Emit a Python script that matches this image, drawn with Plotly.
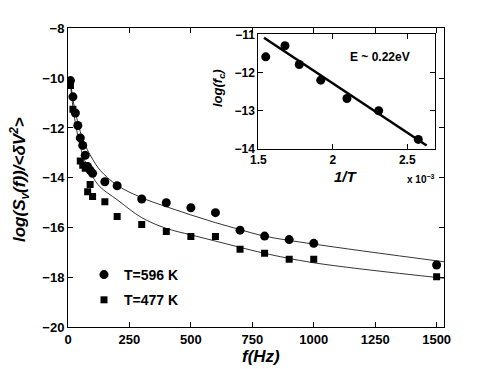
import plotly.graph_objects as go

# main panel: noise spectra
f_hot = [10, 20, 30, 40, 50, 60, 70, 80, 90, 100, 150, 200, 300, 400, 500, 600, 700, 800, 900, 1000, 1500]
s_hot = [-10.1, -10.75, -11.4, -11.9, -12.4, -12.7, -13.1, -13.55, -13.7, -13.82, -14.16, -14.32,
         -14.85, -15.0, -15.2, -15.4, -16.1, -16.34, -16.48, -16.63, -17.5]
f_cold = [10, 20, 50, 60, 70, 80, 90, 100, 150, 200, 300, 400, 500, 600, 700, 800, 900, 1000, 1500]
s_cold = [-10.3, -11.25, -13.33, -13.5, -13.62, -14.56, -14.27, -14.75, -14.96, -15.55,
          -15.87, -16.16, -16.36, -16.36, -16.87, -17.03, -17.27, -17.27, -17.97]

# fitted curves
f_fit = [10, 20, 30, 50, 70, 100, 130, 200, 300, 400, 500, 600, 700, 800, 1000, 1530]
fit_hot = [-10.1, -10.85, -11.35, -12.15, -12.7, -13.25, -13.69, -14.3, -14.8, -15.16,
           -15.49, -15.8, -16.08, -16.34, -16.66, -17.37]
fit_cold = [-10.25, -11.15, -11.8, -12.75, -13.35, -13.95, -14.36, -14.88, -15.6, -16.03,
            -16.29, -16.54, -16.79, -17.03, -17.41, -18.03]

# inset: Arrhenius plot
inv_t = [1.55, 1.679, 1.775, 1.919, 2.095, 2.308, 2.574]
log_fc = [-11.59, -11.30, -11.79, -12.20, -12.68, -13.0, -13.75]
line_x = [1.538, 2.63]
line_y = [-11.09, -13.91]

W, H, OFF = 491, 369, 8   # page body adds an 8 px offset


def px(x):
    return (x - OFF) / W


def py(y):
    return 1 - (y - OFF) / H


bold = dict(family='Liberation Sans, Arial', color='black', weight='bold')

fig = go.Figure()
fig.add_trace(go.Scatter(x=f_fit, y=fit_hot, mode='lines', line=dict(color='black', width=0.8, shape='spline'),
                         showlegend=False, hoverinfo='skip'))
fig.add_trace(go.Scatter(x=f_fit, y=fit_cold, mode='lines', line=dict(color='black', width=0.8, shape='spline'),
                         showlegend=False, hoverinfo='skip'))
fig.add_trace(go.Scatter(x=f_hot, y=s_hot, mode='markers', name='T=596 K', legendgroup='a',
                         marker=dict(symbol='circle', size=9, color='black')))
fig.add_trace(go.Scatter(x=f_cold, y=s_cold, mode='markers', name='T=477 K', legendgroup='b',
                         marker=dict(symbol='square', size=7, color='black')))

fig.add_trace(go.Scatter(x=line_x, y=line_y, mode='lines', line=dict(color='black', width=2.5),
                         xaxis='x2', yaxis='y2', showlegend=False))
fig.add_trace(go.Scatter(x=inv_t, y=log_fc, mode='markers', marker=dict(symbol='circle', size=9, color='black'),
                         xaxis='x2', yaxis='y2', showlegend=False))

axis_common = dict(showline=True, linecolor='black', linewidth=1, mirror='ticks', ticks='inside',
                   ticklen=5, tickcolor='black', showgrid=False, zeroline=False, automargin=False)

fig.update_layout(
    template='none',
    width=W, height=H,
    margin=dict(l=0, r=0, t=0, b=0),
    paper_bgcolor='white', plot_bgcolor='white',
    xaxis=dict(domain=[px(68), px(444)], range=[0, 1530], tickvals=[0, 250, 500, 750, 1000, 1250, 1500],
               tickfont=dict(size=13, **bold), **axis_common),
    yaxis=dict(domain=[py(327.3), py(28.3)], range=[-20, -8], dtick=2,
               tickfont=dict(size=13, **bold), **axis_common),
    xaxis2=dict(domain=[px(258.3), px(435)], range=[1.5, 2.686], tickvals=[1.5, 2, 2.5], anchor='y2',
                tickfont=dict(size=12, **bold), **axis_common),
    yaxis2=dict(domain=[py(149), py(34.3)], range=[-14, -11], dtick=1, anchor='x2',
                tickfont=dict(size=12, **bold), **axis_common),
    legend=dict(x=px(84), y=py(259), xanchor='left', yanchor='top', bgcolor='rgba(0,0,0,0)',
                font=dict(size=14, **bold), tracegroupgap=4),
    showlegend=True,
)


def label(x, y, text, size, angle=0):
    fig.add_annotation(x=px(x), y=py(y), xref='paper', yref='paper', xanchor='center', yanchor='middle',
                       textangle=angle, showarrow=False, text=text, font=dict(size=size, **bold))


label(19, 180, '<i>log(S<sub>v</sub>(f))/&lt;δV<sup>2</sup>&gt;</i>', 17, -90)
label(261, 356, '<i>f(Hz)</i>', 17)
label(218, 88, '<i>log(f<sub>c</sub>)</i>', 13, -90)
label(346, 176, '<i>1/T</i>', 15)
label(421, 179, 'x 10<sup>−3</sup>', 10)
label(380, 57, 'E ~ 0.22eV', 12)

fig.write_html("out.html")
